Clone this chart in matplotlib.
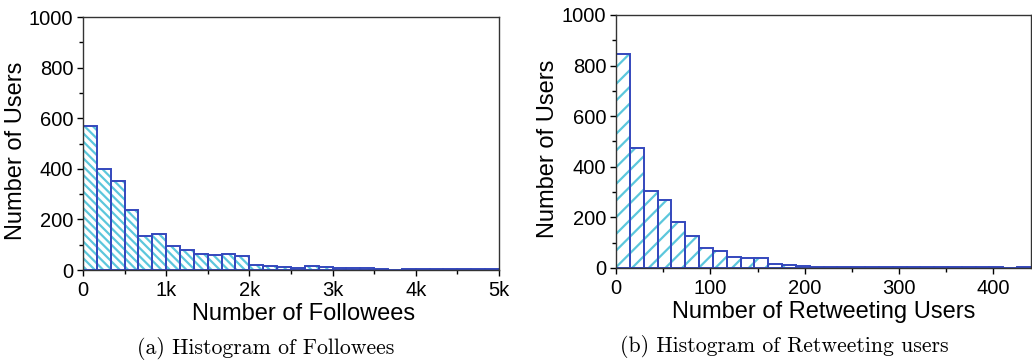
import numpy as np
import matplotlib
matplotlib.use('Agg')
import matplotlib.pyplot as plt
from matplotlib.ticker import MultipleLocator, FuncFormatter

plt.rcParams['font.family'] = ['Liberation Sans', 'DejaVu Sans']
plt.rcParams['hatch.linewidth'] = 1.6

# Histogram of followees: 30 bins over 0..5000
followee_range = (0, 5000)
followee_counts = [570, 400, 352, 238, 136, 143, 95, 80, 63, 58, 62, 57,
                   20, 15, 14, 8, 18, 13, 10, 8, 9, 4, 2, 5, 5, 5, 6, 5, 5, 4]

# Histogram of retweeting users: 30 bins over 0..440
retweet_range = (0, 440)
retweet_counts = [846, 475, 303, 270, 183, 125, 79, 68, 45, 40, 38, 16,
                  10, 7, 5, 5, 4, 3, 3, 3, 2, 2, 2, 2, 2, 2, 2, 2, 1, 3]

edge_col = '#3448bd'
hatch_col = '#5cc7dc'

fig = plt.figure(figsize=(10.32, 3.64), dpi=100)
ax1 = fig.add_axes([0.0804, 0.258, 0.403, 0.695])
ax2 = fig.add_axes([0.597, 0.264, 0.402, 0.695])


def draw_hist(ax, counts, rng, hatch):
    edges = np.linspace(rng[0], rng[1], len(counts) + 1)
    w = edges[1] - edges[0]
    ax.bar(edges[:-1], counts, width=w, align='edge', color='white',
           edgecolor=hatch_col, hatch=hatch, linewidth=0)
    ax.bar(edges[:-1], counts, width=w, align='edge', fill=False,
           edgecolor=edge_col, linewidth=1.4)
    ax.set_xlim(rng)
    ax.set_ylim(0, 1000)
    ax.yaxis.set_major_locator(MultipleLocator(200))
    ax.yaxis.set_minor_locator(MultipleLocator(100))
    ax.tick_params(which='both', direction='out', labelsize=14.5, width=1,
                   top=False, right=False)
    ax.tick_params(axis='x', pad=4)
    ax.tick_params(axis='y', pad=3)
    ax.tick_params(which='major', length=4)
    ax.tick_params(which='minor', length=3)
    for s in ax.spines.values():
        s.set_linewidth(1.0)
        s.set_color('#333333')
    ax.set_ylabel('Number of Users', fontsize=17, labelpad=2)
    ax.yaxis.set_label_coords(-0.16, 0.47, transform=ax.transAxes)
    ax.yaxis.label.set_va('center')


draw_hist(ax1, followee_counts, followee_range, '\\\\\\\\')
ax1.xaxis.set_major_locator(MultipleLocator(1000))
ax1.xaxis.set_minor_locator(MultipleLocator(500))
ax1.xaxis.set_major_formatter(FuncFormatter(lambda v, p: '0' if v == 0 else '%dk' % (v // 1000)))
ax1.set_xlabel('Number of Followees', fontsize=17)
ax1.xaxis.set_label_coords(0.53, -0.13, transform=ax1.transAxes)
ax1.xaxis.label.set_va('top')

draw_hist(ax2, retweet_counts, retweet_range, '//')
ax2.xaxis.set_major_locator(MultipleLocator(100))
ax2.xaxis.set_minor_locator(MultipleLocator(50))
ax2.set_xlabel('Number of Retweeting Users', fontsize=17)
ax2.xaxis.set_label_coords(0.5, -0.13, transform=ax2.transAxes)
ax2.xaxis.label.set_va('top')
ax2.yaxis.set_label_coords(-0.165, 0.47, transform=ax2.transAxes)

fig.text(266 / 1032, 1 - 348 / 364, '(a) Histogram of Followees',
         family='cmr10', fontsize=15.7, ha='center', va='center')
fig.text(784 / 1032, 1 - 347 / 364, '(b) Histogram of Retweeting users',
         family='cmr10', fontsize=15.7, ha='center', va='center')

fig.savefig('out.png', dpi=100)
